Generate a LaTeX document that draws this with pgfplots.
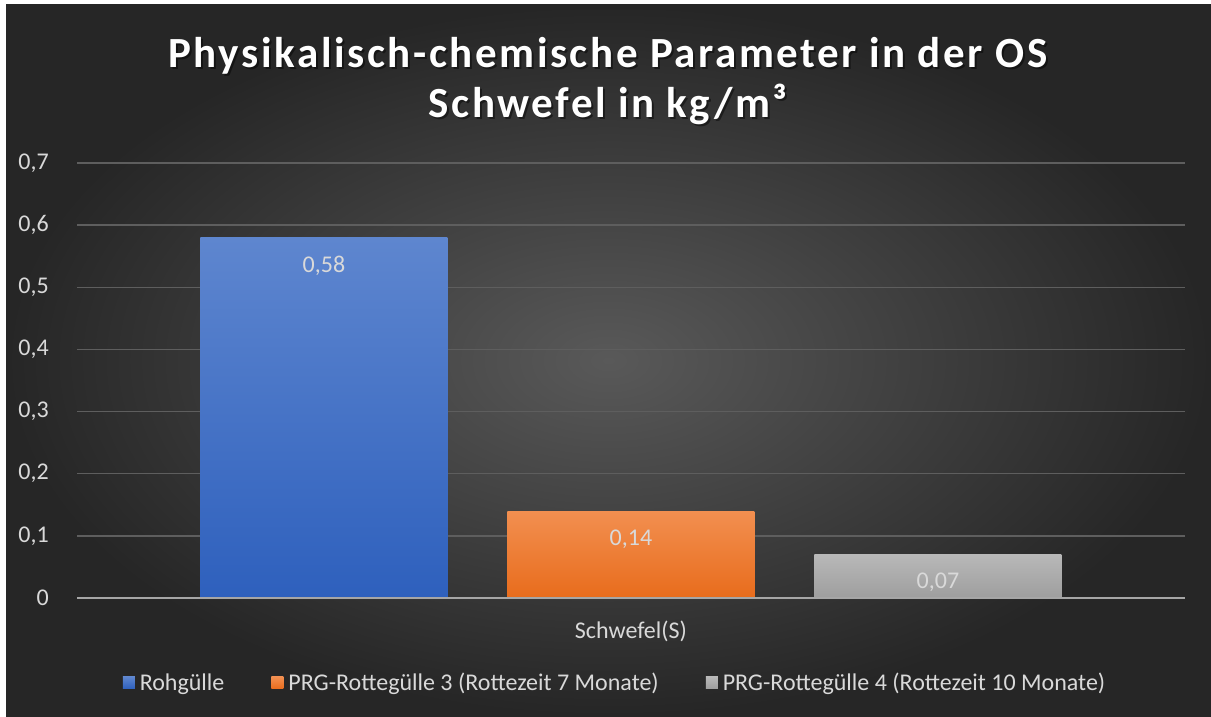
\documentclass[border=0pt]{standalone}
\usepackage{pgfplots}
\pgfplotsset{compat=1.18}
\usepackage{fontspec}
\setmainfont{Carlito}
\newfontfamily\titlefamily[LetterSpace=6]{Carlito}
\definecolor{bgin}{HTML}{595959}
\definecolor{bgout}{HTML}{262626}
\definecolor{gridc}{HTML}{5E5E5E}
\definecolor{axisc}{HTML}{A6A6A6}
\definecolor{textc}{HTML}{D9D9D9}
\definecolor{blueT}{HTML}{5E86CF}
\definecolor{blueB}{HTML}{2E60BD}
\definecolor{orangeT}{HTML}{F28F50}
\definecolor{orangeB}{HTML}{E86C1C}
\definecolor{greyT}{HTML}{B8B8B8}
\definecolor{greyB}{HTML}{9E9E9E}
\begin{document}
\begin{tikzpicture}[x=1pt,y=1pt]
\fill[white] (0,0) rectangle (1211,716);
\shade[inner color=bgin, outer color=bgout] (6,0) rectangle (1211,711);
\node[anchor=base, text=black, opacity=0.45, font={\titlefamily\bfseries\fontsize{43}{50}\selectfont}, inner sep=0pt] at (610,646) {Physikalisch-chemische Parameter in der OS};
\node[anchor=base, text=black, opacity=0.45, font={\titlefamily\bfseries\fontsize{43}{50}\selectfont}, inner sep=0pt] at (610,596) {Schwefel in kg/m³};
\node[anchor=base, text=white, font={\titlefamily\bfseries\fontsize{43}{50}\selectfont}, inner sep=0pt] at (608,648) {Physikalisch-chemische Parameter in der OS};
\node[anchor=base, text=white, font={\titlefamily\bfseries\fontsize{43}{50}\selectfont}, inner sep=0pt] at (608,598) {Schwefel in kg/m³};
\begin{axis}[
  at={(77pt,118pt)}, anchor=south west,
  width=1108pt, height=435pt, scale only axis,
  xmin=-0.5, xmax=0.5, ymin=0, ymax=0.7,
  ytick={0,0.1,0.2,0.3,0.4,0.5,0.6,0.7},
  yticklabel style={/pgf/number format/use comma, /pgf/number format/fixed, /pgf/number format/precision=1,
    text=textc, font=\fontsize{24}{28}\selectfont, anchor=east, inner sep=0pt, xshift=-28pt},
  /pgf/number format/assume math mode=true,
  xtick={0}, xticklabels={Schwefel(S)},
  xticklabel style={text=textc, font=\fontsize{24}{28}\selectfont, anchor=center, inner sep=0pt, yshift=-33pt},
  major tick length=0pt,
  axis line style={draw=none},
  ymajorgrids, grid style={color=gridc, line width=1.5pt},
  ybar, bar width=247pt,
  nodes near coords={\pgfmathprintnumber[use comma,fixed,fixed zerofill,precision=2,assume math mode=true]{\pgfplotspointmeta}},
  every node near coord/.append style={text=textc, font=\fontsize{24}{28}\selectfont, anchor=center, yshift=-28pt},
  legend columns=3,
  legend style={draw=none, fill=none, text=textc, font=\fontsize{24}{28}\selectfont, at={(0.4856,-0.195)}, anchor=center,
    /tikz/every odd column/.append style={column sep=3pt},
    /tikz/every even column/.append style={column sep=45pt}},
  legend image code/.code={\path[#1,draw=none] (0pt,-6pt) rectangle (12pt,6pt);},
]
\addplot[draw=none, top color=blueT, bottom color=blueB, bar shift=-307pt] coordinates {(0,0.58)};
\addplot[draw=none, top color=orangeT, bottom color=orangeB, bar shift=0pt] coordinates {(0,0.14)};
\addplot[draw=none, top color=greyT, bottom color=greyB, bar shift=307pt] coordinates {(0,0.07)};
\legend{Rohgülle, PRG-Rottegülle 3 (Rottezeit 7 Monate), PRG-Rottegülle 4 (Rottezeit 10 Monate)}
\draw[axisc, line width=3pt] (rel axis cs:0,0) -- (rel axis cs:1,0);
\end{axis}
\end{tikzpicture}
\end{document}
